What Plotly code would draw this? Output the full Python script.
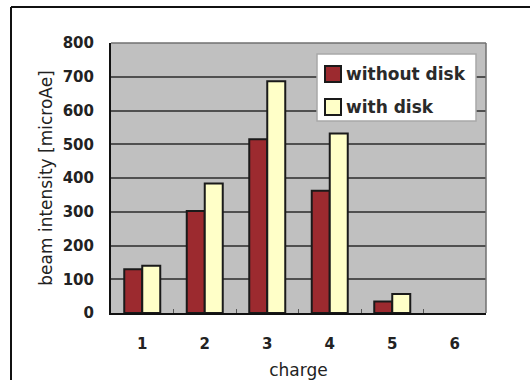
import plotly.graph_objects as go

charges = ["1", "2", "3", "4", "5", "6"]
without_disk = [130, 302, 515, 362, 34, None]
with_disk = [140, 384, 687, 532, 56, None]
y_ticks = [0, 100, 200, 300, 400, 500, 600, 700, 800]
series_names = ["without disk", "with disk"]
series_colors = ["#9c2a2f", "#ffffc8"]

FONT = "DejaVu Sans"
OUTLINE = "#1a1a1a"

fig = go.Figure()
for name, vals, col in zip(series_names, [without_disk, with_disk], series_colors):
    fig.add_trace(go.Bar(
        x=charges, y=vals, name=name, showlegend=False,
        marker=dict(color=col, line=dict(color=OUTLINE, width=2)),
    ))

# plot-area pixel geometry -> paper coordinates helpers
L, R, T, B = 111, 486, 43, 313
def px(x):
    return (x - L) / (R - L)
def py(y):
    return (B - y) / (B - T)

shapes = [
    # top and right plot border
    dict(type="line", xref="paper", yref="paper", x0=0, x1=1, y0=1, y1=1,
         line=dict(color="#707070", width=1.5)),
    dict(type="line", xref="paper", yref="paper", x0=1, x1=1, y0=0, y1=1,
         line=dict(color="#707070", width=1.5)),
    # outer frame (top and left edges)
    dict(type="line", xref="paper", yref="paper", x0=px(11), x1=px(540), y0=py(7), y1=py(7),
         line=dict(color="#111111", width=2)),
    dict(type="line", xref="paper", yref="paper", x0=px(11), x1=px(11), y0=py(390), y1=py(7),
         line=dict(color="#111111", width=2)),
    # legend box
    dict(type="rect", xref="paper", yref="paper", x0=px(317), x1=px(476), y0=py(121), y1=py(54),
         fillcolor="white", line=dict(color="#a8a8a8", width=1.5), layer="above"),
]
annotations = []
row_centers = [74, 107]
for name, col, cy in zip(series_names, series_colors, row_centers):
    shapes.append(dict(type="rect", xref="paper", yref="paper",
                       x0=px(325), x1=px(341), y0=py(cy + 8), y1=py(cy - 8),
                       fillcolor=col, line=dict(color=OUTLINE, width=2), layer="above"))
    annotations.append(dict(xref="paper", yref="paper", x=px(344), y=py(cy),
                            xanchor="left", yanchor="middle", showarrow=False,
                            text=name, font=dict(family=FONT, size=17, weight="bold", color="#2a2a2a")))

fig.update_layout(
    width=530, height=380,
    margin=dict(l=L, r=530 - R, t=T, b=380 - B),
    paper_bgcolor="white",
    plot_bgcolor="#c0c0c0",
    barmode="group", bargap=0.424, bargroupgap=0,
    font=dict(family=FONT, color="#222222"),
    showlegend=False,
    xaxis=dict(
        type="category", range=[-0.5, 5.5], automargin=False,
        showgrid=False, showline=True, linecolor="#111111", linewidth=2,
        ticks="inside", tickson="boundaries", ticklen=4, tickcolor="#555555",
        tickfont=dict(family=FONT, size=15, weight="bold"),
        ticklabelstandoff=16,
        title=dict(text="charge", font=dict(family=FONT, size=17), standoff=18),
    ),
    yaxis=dict(
        range=[0, 800], tickvals=y_ticks, automargin=False,
        showgrid=True, gridcolor="#505050", gridwidth=1.5,
        showline=True, linecolor="#111111", linewidth=2,
        ticks="", zeroline=False,
        tickfont=dict(family=FONT, size=15, weight="bold"),
        ticklabelstandoff=12,
        title=dict(text="beam intensity [microAe]", font=dict(family=FONT, size=17), standoff=6),
    ),
    shapes=shapes,
    annotations=annotations,
)

fig.write_html("out.html")
